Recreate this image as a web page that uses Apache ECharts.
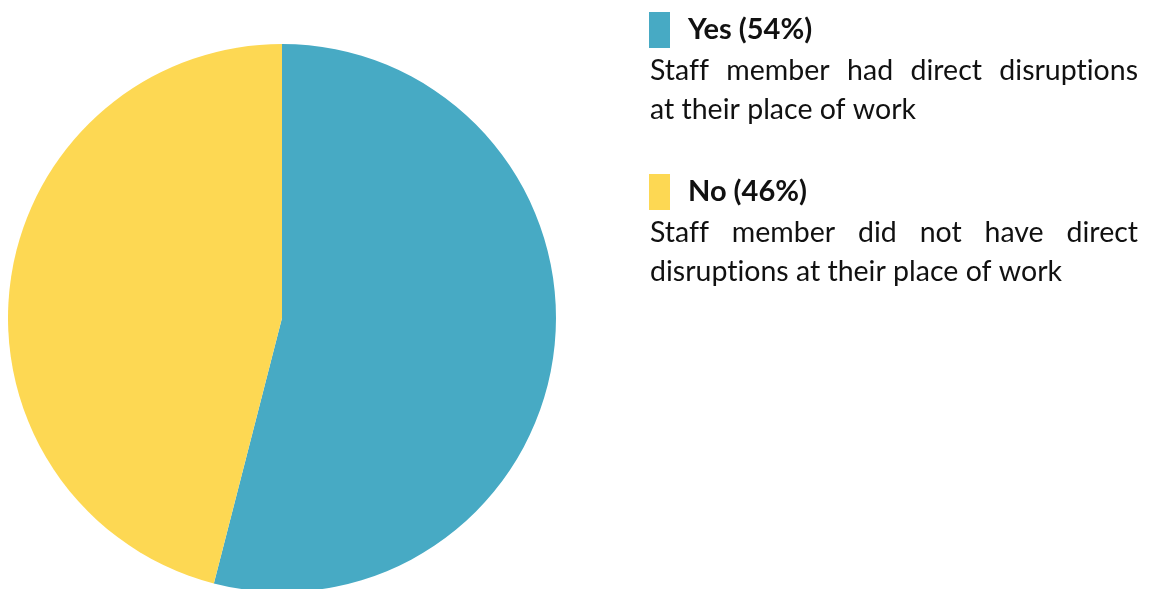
<!DOCTYPE html>
<html>
<head>
<meta charset="utf-8">
<script src="https://cdn.jsdelivr.net/npm/echarts@6/dist/echarts.min.js"></script>
<style>html,body{margin:0;padding:0;background:#fff}#c{width:1152px;height:589px}</style>
</head>
<body>
<div id="c"></div>
<script>
const categories = ['Yes (54%)', 'No (46%)'];
const values = [54, 46];
const colors = ['#47AAC4', '#FDD853'];
const descriptions = [
  ['Staff member had direct disruptions', 'at their place of work'],
  ['Staff member did not have direct', 'disruptions at their place of work']
];

const chart = echarts.init(document.getElementById('c'));
const FONT = 'Lato';
const bodySize = 28.5;
const textLeft = 650, textRight = 1138;
const lineTops = [[56, 95], [218, 257]];
// zero-width non-joiner keeps "ti" from becoming a ligature, as in the reference
const noLig = s => s.replace(/ti/g, 't\u200Ci').replace(/ff/g, 'f\u200Cf');

const canvas = document.createElement('canvas');
const ctx = canvas.getContext('2d');
ctx.font = bodySize + 'px ' + FONT;

const graphics = [];
descriptions.forEach((lines, bi) => {
  lines.forEach((line, li) => {
    const y = lineTops[bi][li];
    const justify = li < lines.length - 1;
    const words = (justify ? line.split(' ') : [line]).map(noLig);
    const widths = words.map(w => ctx.measureText(w).width);
    const total = widths.reduce((a, b) => a + b, 0);
    const gap = words.length > 1 ? (textRight - textLeft - total) / (words.length - 1) : 0;
    let x = textLeft;
    words.forEach((w, wi) => {
      graphics.push({type: 'text', x: x, y: y, silent: true,
        style: {text: w, font: bodySize + 'px ' + FONT, fill: '#111'}});
      x += widths[wi] + gap;
    });
  });
});

chart.setOption({
  animation: false,
  color: colors,
  legend: {
    orient: 'vertical',
    left: 649,
    top: 12,
    padding: 0,
    itemGap: 126,
    icon: 'rect',
    itemWidth: 21,
    itemHeight: 36,
    selectedMode: false,
    data: categories,
    textStyle: {fontFamily: FONT, fontWeight: 'bold', fontSize: 29, color: '#111', padding: [0, 0, 0, 13]}
  },
  graphic: graphics,
  series: [{
    type: 'pie',
    center: [282, 318],
    radius: 274,
    startAngle: 90,
    clockwise: true,
    silent: true,
    label: {show: false},
    labelLine: {show: false},
    data: categories.map((c, i) => ({name: c, value: values[i]}))
  }]
});
</script>
</body>
</html>
